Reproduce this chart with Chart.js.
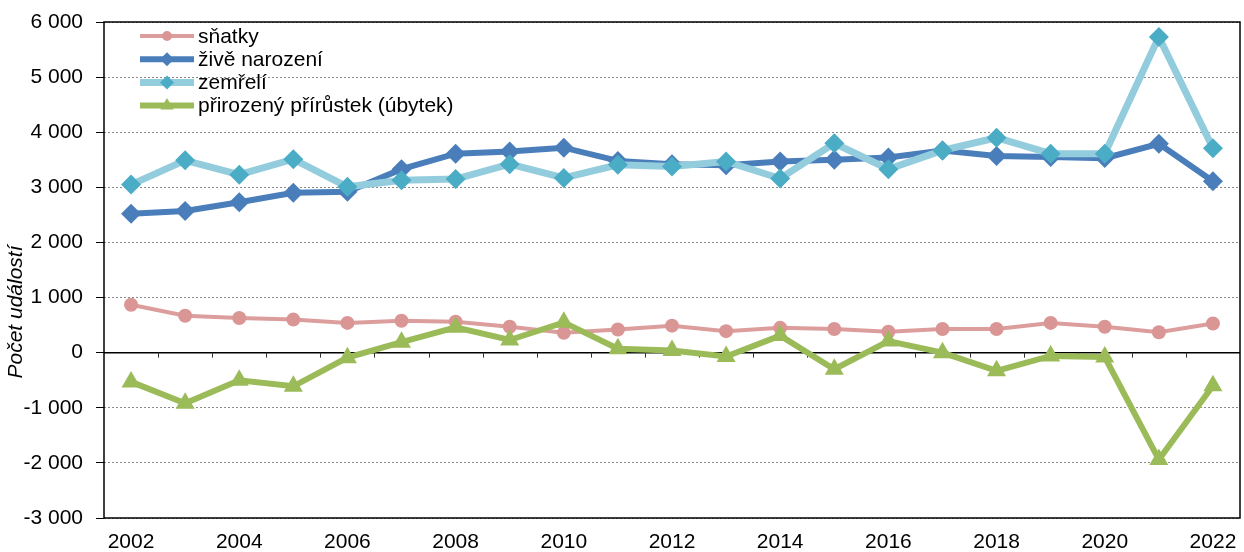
<!DOCTYPE html>
<html>
<head>
<meta charset="utf-8">
<script src="https://cdn.jsdelivr.net/npm/chart.js@4/dist/chart.umd.min.js"></script>
<style>
  html, body { margin: 0; padding: 0; background: #fff; }
  #box { width: 1244px; height: 552px; }
</style>
</head>
<body>
<div id="box"><canvas id="lineChart"></canvas></div>
<script>
'use strict'

//roky
const roky = [ '2002', '2003', '2004', '2005', '2006', '2007', '2008', '2009', '2010', '2011', '2012',
  '2013', '2014', '2015', '2016', '2017', '2018', '2019', '2020', '2021', '2022' ];

//hodnoty serii
const snatky = [ 870, 670, 630, 600, 540, 580, 560, 470, 360, 420, 490, 390, 450, 430, 380, 430, 430, 540, 470, 370, 530 ];
const naroz = [ 2520, 2570, 2730, 2900, 2920, 3330, 3610, 3650, 3720, 3480, 3420, 3400, 3470, 3500, 3540, 3670, 3570, 3550, 3530, 3790, 3110 ];
const zemreli = [ 3050, 3490, 3230, 3510, 3010, 3130, 3150, 3420, 3170, 3410, 3380, 3470, 3160, 3800, 3330, 3670, 3900, 3610, 3610, 5730, 3710 ];
const prirustek = [ -530, -920, -500, -610, -90, 190, 460, 230, 550, 70, 40, -70, 310, -300, 210, 0, -330, -60, -80, -1940, -600 ];

const nazvy = [ 'sňatky', 'živě narození', 'zemřelí', 'přirozený přírůstek (úbytek)' ];
const osaY = 'Počet událostí';

const FONT = '"Liberation Sans", Arial, sans-serif';
const VEL = 21;

function formatCislo( v )
{
  return String( v ).replace( /\B(?=(\d{3})+(?!\d))/g, ' ' );
}

//kresleni znacky v legende
function znacka( ctx, styl, x, y, r, barva )
{
  ctx.save();
  ctx.fillStyle = barva;
  ctx.beginPath();
  if ( styl === 'circle' )
  {
    ctx.arc( x, y, r, 0, Math.PI * 2 );
  }
  else if ( styl === 'rectRot' )
  {
    ctx.moveTo( x - r, y );
    ctx.lineTo( x, y - r );
    ctx.lineTo( x + r, y );
    ctx.lineTo( x, y + r );
  }
  else
  {
    ctx.moveTo( x, y - r );
    ctx.lineTo( x + r * 0.866, y + r * 0.5 );
    ctx.lineTo( x - r * 0.866, y + r * 0.5 );
  }
  ctx.closePath();
  ctx.fill();
  ctx.restore();
}

//ramecek, nulova osa, popis osy a legenda
const ramecek =
{
  id: 'ramecek',
  beforeDatasetsDraw( chart )
  {
    const ctx = chart.ctx;
    const a = chart.chartArea;
    const x = chart.scales.x;
    const y0 = chart.scales.y.getPixelForValue( 0 );
    const krok = x.getPixelForValue( 1 ) - x.getPixelForValue( 0 );

    ctx.save();
    ctx.strokeStyle = '#000';
    ctx.lineWidth = 1.5;
    ctx.beginPath();
    ctx.moveTo( a.left, y0 );
    ctx.lineTo( a.right, y0 );
    ctx.stroke();

    ctx.lineWidth = 1;
    ctx.strokeStyle = '#333';
    for ( let i = 1; i < roky.length; i++ )
    {
      const px = Math.round( x.getPixelForValue( i ) - krok / 2 ) + 0.5;
      ctx.beginPath();
      ctx.moveTo( px, y0 );
      ctx.lineTo( px, y0 + 5 );
      ctx.stroke();
    }

    ctx.strokeStyle = '#000';
    ctx.lineWidth = 1.5;
    ctx.strokeRect( a.left, a.top, a.right - a.left, a.bottom - a.top );

    //popis osy y
    ctx.translate( 16, ( a.top + a.bottom ) / 2 + 42 );
    ctx.rotate( -Math.PI / 2 );
    ctx.font = 'italic ' + VEL + 'px ' + FONT;
    ctx.fillStyle = '#000';
    ctx.textAlign = 'center';
    ctx.textBaseline = 'middle';
    ctx.fillText( osaY, 0, 0 );
    ctx.restore();
  },
  afterDatasetsDraw( chart )
  {
    const ctx = chart.ctx;
    const a = chart.chartArea;
    ctx.save();
    ctx.font = VEL + 'px ' + FONT;
    ctx.textBaseline = 'middle';
    chart.data.datasets.forEach( ( ds, i ) =>
    {
      const ly = a.top + 14 + i * 23.2;
      const lx = a.left + 36;
      ctx.strokeStyle = ds.borderColor;
      ctx.lineWidth = ds.borderWidth;
      ctx.beginPath();
      ctx.moveTo( lx, ly );
      ctx.lineTo( lx + 54, ly );
      ctx.stroke();
      znacka( ctx, ds.pointStyle, lx + 27, ly, ds.pointRadius * 0.7, ds.pointBackgroundColor );
      ctx.fillStyle = '#000';
      ctx.fillText( ds.label, lx + 58, ly + 1 );
    });
    ctx.restore();
  }
};

const lineData =
{
  labels: roky,
  datasets:
  [
    {
      label: nazvy[ 0 ],
      data: snatky,
      borderColor: '#DC9E9C',
      borderWidth: 4,
      pointStyle: 'circle',
      pointRadius: 7,
      pointBackgroundColor: '#D99694',
      pointBorderWidth: 0,
      order: 4
    },
    {
      label: nazvy[ 1 ],
      data: naroz,
      borderColor: '#4A7EBB',
      borderWidth: 6,
      pointStyle: 'rectRot',
      pointRadius: 10,
      pointBackgroundColor: '#4A7EBB',
      pointBorderWidth: 0,
      order: 3
    },
    {
      label: nazvy[ 2 ],
      data: zemreli,
      borderColor: '#93CDDD',
      borderWidth: 7,
      pointStyle: 'rectRot',
      pointRadius: 10,
      pointBackgroundColor: '#4BACC6',
      pointBorderWidth: 0,
      order: 2
    },
    {
      label: nazvy[ 3 ],
      data: prirustek,
      borderColor: '#9BBB59',
      borderWidth: 6,
      pointStyle: 'triangle',
      pointRadius: 11,
      pointBackgroundColor: '#9BBB59',
      pointBorderWidth: 0,
      order: 1
    }
  ]
};

const lineOptions =
{
  responsive: true,
  maintainAspectRatio: false,
  animation: false,
  layout: { autoPadding: false, padding: { top: 22, right: 4, left: 0, bottom: 0 } },
  plugins:
  {
    legend: { display: false },
    tooltip: { enabled: false }
  },
  elements: { line: { tension: 0 } },
  scales:
  {
    x:
    {
      offset: true,
      grid: { display: false, drawTicks: false },
      border: { display: false },
      ticks:
      {
        autoSkip: false,
        maxRotation: 0,
        padding: 12,
        color: '#000',
        font: { family: FONT, size: VEL },
        callback: ( v, i ) => i % 2 === 0 ? roky[ i ] : ''
      },
      afterFit: s => { s.height = 34; s.paddingLeft = 0; s.paddingRight = 0; }
    },
    y:
    {
      min: -3000,
      max: 6000,
      grid:
      {
        color: c => c.tick && c.tick.value === 0 ? 'rgba(0,0,0,0)' : '#8a8a8a',
        lineWidth: 1,
        tickColor: '#000',
        tickLength: 8,
        tickBorderDash: []
      },
      border: { display: false, dash: [ 2, 2 ] },
      ticks:
      {
        stepSize: 1000,
        padding: 13,
        color: '#000',
        font: { family: FONT, size: VEL },
        callback: v => formatCislo( v )
      },
      afterFit: s => { s.width = 104; s.paddingTop = 0; s.paddingBottom = 0; }
    }
  }
};

//vytvoreni grafu
const lineCanvas = document.getElementById( 'lineChart' ).getContext( '2d' );
const lineChart = new Chart( lineCanvas,
{
  type: 'line',
  data: lineData,
  options: lineOptions,
  plugins: [ ramecek ]
});
</script>
</body>
</html>
